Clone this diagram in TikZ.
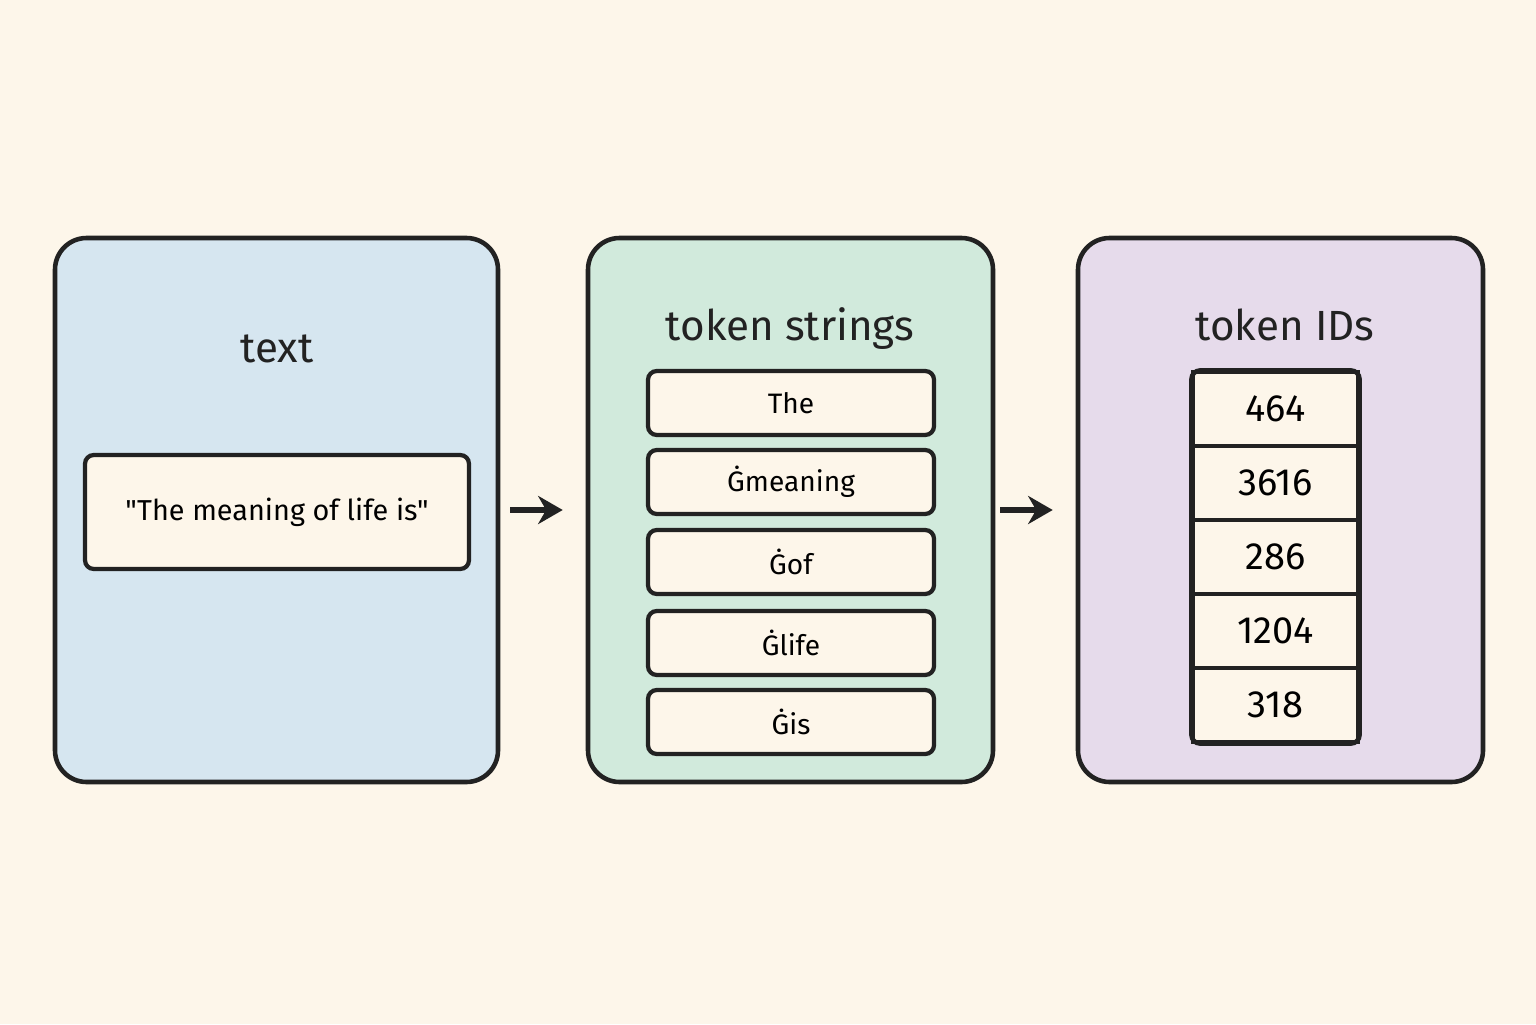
\documentclass[tikz,border=0pt]{standalone}
\usepackage{fontspec}
\setmainfont{Fira Sans}[Ligatures=TeXOff]
\usepackage{xcolor}
\usetikzlibrary{arrows.meta}
\definecolor{paper}{HTML}{FDF6EA}
\definecolor{ink}{HTML}{222222}
\definecolor{textblue}{HTML}{D6E6F0}
\definecolor{tokgreen}{HTML}{D1EADC}
\definecolor{idpurple}{HTML}{E6DBEB}
\begin{document}
\begin{tikzpicture}[
    panel/.style={draw=ink, line width=1.3pt, rounded corners=9pt, minimum height=5.44cm},
    tokbox/.style={draw=ink, line width=1.2pt, fill=paper, rounded corners=2.5pt, minimum width=2.86cm, minimum height=0.64cm, font=\fontsize{8}{10}\selectfont},
    idcell/.style={draw=ink, line width=0.9pt, fill=paper, minimum width=1.65cm, minimum height=0.74cm, font=\fontsize{10.8}{12}\selectfont},
    title/.style={anchor=base, font=\fontsize{12}{14}\selectfont, text=ink},
    flow/.style={-{Stealth[length=7pt,width=8pt]}, draw=ink, line width=1.8pt}
]
\useasboundingbox[fill=paper] (0,0) rectangle (15.36,10.24);
% panels
\node[panel, fill=textblue, minimum width=4.43cm] (txt) at (2.765, 5.14) {};
\node[panel, fill=tokgreen, minimum width=4.05cm] (tok) at (7.905, 5.14) {};
\node[panel, fill=idpurple, minimum width=4.05cm] (ids) at (12.805, 5.14) {};
\node[title] (txttitle) at (2.77, 6.62) {text};
\node[title] (toktitle) at (7.90, 6.84) {token strings};
\node[title] (idstitle) at (12.85, 6.84) {token IDs};
% input text
\node[tokbox, minimum width=3.84cm, minimum height=1.14cm, font=\fontsize{8.2}{10}\selectfont] (sentence) at (2.77, 5.12) {"The meaning of life is"};
% token strings
\node[tokbox] (tok1) at (7.91, 6.21) {The};
\node[tokbox] (tok2) at (7.91, 5.42) {Ġmeaning};
\node[tokbox] (tok3) at (7.91, 4.62) {Ġof};
\node[tokbox] (tok4) at (7.91, 3.81) {Ġlife};
\node[tokbox] (tok5) at (7.91, 3.02) {Ġis};
% token ids
\node[idcell] (id1) at (12.755, 6.15) {464};
\node[idcell] (id2) at (12.755, 5.41) {3616};
\node[idcell] (id3) at (12.755, 4.67) {286};
\node[idcell] (id4) at (12.755, 3.93) {1204};
\node[idcell] (id5) at (12.755, 3.19) {318};
\draw[ink, line width=1.3pt, rounded corners=2.5pt] (id1.north west) rectangle (id5.south east);
% arrows
\draw[flow, shorten <=0.10cm, shorten >=0.23cm] (txt.east) -- (tok.west);
\draw[flow, shorten <=0.05cm, shorten >=0.23cm] (tok.east) -- (ids.west);
\end{tikzpicture}
\end{document}
